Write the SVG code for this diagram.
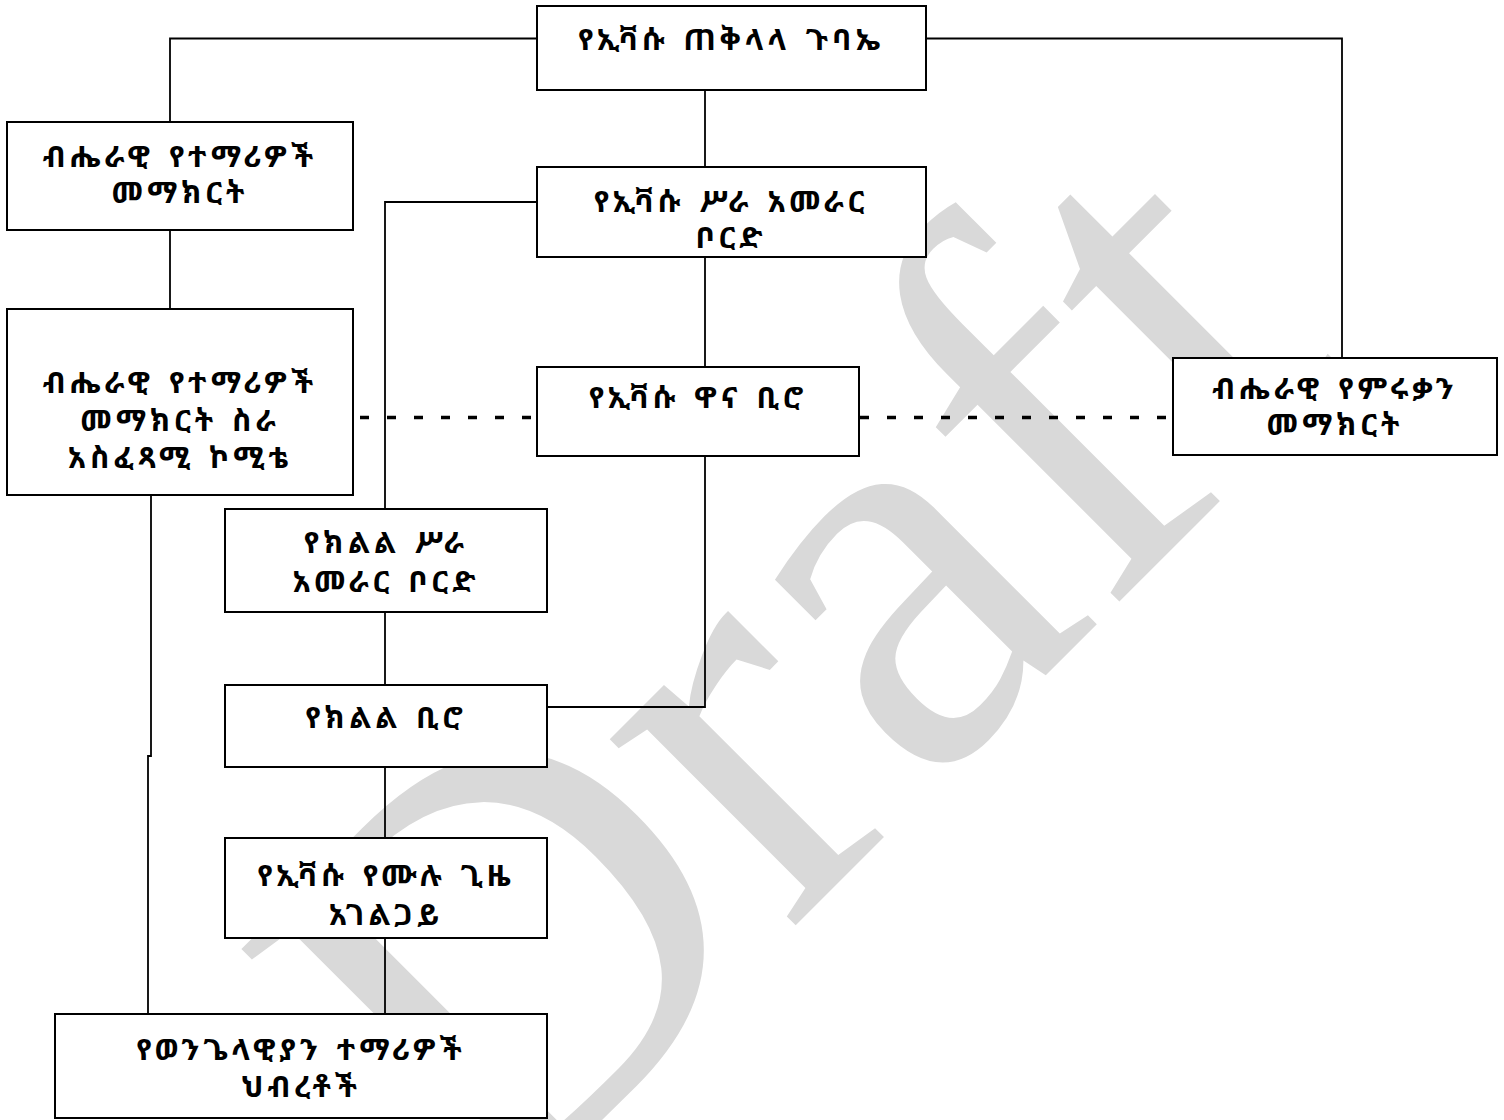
<svg xmlns="http://www.w3.org/2000/svg" width="1504" height="1120" viewBox="0 0 1504 1120">
<style>
.box{fill:#ffffff;stroke:#000000;stroke-width:2}
.lbl{font-family:"Noto Sans Ethiopic","Noto Serif Ethiopic","Abyssinica SIL","DejaVu Sans","Noto Sans",sans-serif;font-size:30px;font-weight:bold;fill:#000000;text-anchor:middle;letter-spacing:4px;word-spacing:3px}
.con{fill:none;stroke:#000000;stroke-width:1.8}
.dash{fill:none;stroke:#000000;stroke-width:3.5;stroke-dasharray:9 18}
.wm{font-family:"Liberation Serif","Times New Roman",serif;font-size:573px;fill:#d9d9d9}
</style>
<rect x="0" y="0" width="1504" height="1120" fill="#ffffff"/>
<g id="watermark">
<text class="wm" transform="translate(495,1226) rotate(-45)" x="0" y="0">Draft</text>
</g>
<g id="connectors">
<path class="con" d="M537 38.5 H170 V122"/>
<path class="con" d="M926 38.5 H1342 V358"/>
<path class="con" d="M705 90 V167"/>
<path class="con" d="M705 257 V367"/>
<path class="con" d="M170 230 V309"/>
<path class="con" d="M151 495 V756 H148 V1014"/>
<path class="con" d="M537 202 H385 V509"/>
<path class="con" d="M705 456 V707 H547"/>
<path class="con" d="M385 612 V685"/>
<path class="con" d="M385 767 V838"/>
<path class="con" d="M385 938 V1014"/>
<path class="dash" d="M360 417.5 H537"/>
<path class="dash" d="M860 417.5 H1173"/>
</g>
<g id="general-assembly">
<rect class="box" x="537" y="6" width="389" height="84"/>
<text class="lbl" x="731" y="50">የኢቫሱ ጠቅላላ ጉባኤ</text>
</g>
<g id="national-student-council">
<rect class="box" x="7" y="122" width="346" height="108"/>
<text class="lbl" x="180" y="167">ብሔራዊ የተማሪዎች</text>
<text class="lbl" x="180" y="203">መማክርት</text>
</g>
<g id="student-council-executive">
<rect class="box" x="7" y="309" width="346" height="186"/>
<text class="lbl" x="180" y="393">ብሔራዊ የተማሪዎች</text>
<text class="lbl" x="180" y="431">መማክርት ስራ</text>
<text class="lbl" x="180" y="468">አስፈጻሚ ኮሚቴ</text>
</g>
<g id="executive-board">
<rect class="box" x="537" y="167" width="389" height="90"/>
<text class="lbl" x="731" y="212">የኢቫሱ ሥራ አመራር</text>
<text class="lbl" x="731" y="248">ቦርድ</text>
</g>
<g id="head-office">
<rect class="box" x="537" y="367" width="322" height="89"/>
<text class="lbl" x="698" y="408">የኢቫሱ ዋና ቢሮ</text>
</g>
<g id="graduates-council">
<rect class="box" x="1173" y="358" width="324" height="97"/>
<text class="lbl" x="1335" y="399">ብሔራዊ የምሩቃን</text>
<text class="lbl" x="1335" y="435">መማክርት</text>
</g>
<g id="regional-board">
<rect class="box" x="225" y="509" width="322" height="103"/>
<text class="lbl" x="386" y="553">የክልል ሥራ</text>
<text class="lbl" x="386" y="592">አመራር ቦርድ</text>
</g>
<g id="regional-office">
<rect class="box" x="225" y="685" width="322" height="82"/>
<text class="lbl" x="386" y="728">የክልል ቢሮ</text>
</g>
<g id="full-time-staff">
<rect class="box" x="225" y="838" width="322" height="100"/>
<text class="lbl" x="386" y="886">የኢቫሱ የሙሉ ጊዜ</text>
<text class="lbl" x="386" y="925">አገልጋይ</text>
</g>
<g id="student-fellowships">
<rect class="box" x="55" y="1014" width="492" height="104"/>
<text class="lbl" x="301" y="1060">የወንጌላዊያን ተማሪዎች</text>
<text class="lbl" x="301" y="1097">ህብረቶች</text>
</g>
</svg>
